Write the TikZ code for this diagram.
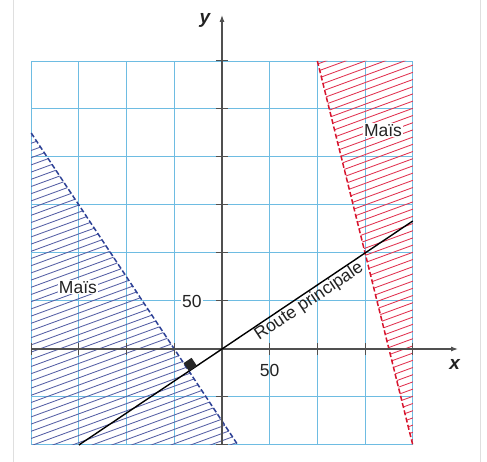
\documentclass[tikz,border=0pt]{standalone}
\usepackage{fontspec}
\setmainfont{Liberation Sans}
\usetikzlibrary{arrows.meta,calc}
\definecolor{gridblue}{RGB}{110,188,226}
\definecolor{hatchblue}{RGB}{85,95,165}
\definecolor{lineblue}{RGB}{45,65,150}
\definecolor{hatchred}{RGB}{225,50,80}
\definecolor{linered}{RGB}{215,20,45}
\definecolor{axisgray}{RGB}{80,80,80}
\definecolor{txt}{RGB}{35,35,35}
\begin{document}
\begin{tikzpicture}[x=47.7pt,y=48pt,
 gridline/.style={gridblue,line width=1pt},
 axisline/.style={axisgray,line width=1.2pt},
 tickmark/.style={axisgray,line width=1pt},
 bluehatch/.style={hatchblue,line width=0.85pt},
 redhatch/.style={hatchred,line width=0.85pt},
 bluebound/.style={lineblue,line width=1.5pt,dash pattern=on 5pt off 2.5pt},
 redbound/.style={linered,line width=1.5pt,dash pattern=on 5pt off 2.5pt},
 roadline/.style={black,line width=1.4pt},
 edgeline/.style={gray!25,line width=1pt},
 lbl/.style={text=txt,font=\fontsize{17.5}{20}\selectfont,inner sep=1pt},
 axlbl/.style={text=txt,font=\fontsize{19}{22}\selectfont\bfseries\itshape,inner sep=1pt}
]
\useasboundingbox (-4.654,-2.354) rectangle (5.556,7.271);
\fill[white] (-4.654,-2.354) rectangle (5.556,7.271);
% page edges
\draw[edgeline] (-4.38,-2.354) -- (-4.38,7.271);
\draw[edgeline] (5.42,-2.354) -- (5.42,7.271);
% grid
\draw[gridline,step={(1,1)}] (-4,-2) grid (4,6);
% blue hatched region
\begin{scope}
\clip (-4,4.5) -- (1/3,-2) -- (-4,-2) -- cycle;
\foreach \i in {0,...,57} \draw[bluehatch] (-4.1,-3.7+0.15*\i) -- ++(4.6,1.67);
\end{scope}
% red hatched region
\begin{scope}
\clip (2,6) -- (4,6) -- (4,-2) -- cycle;
\foreach \i in {0,...,60} \draw[redhatch] (1.9,-2.8+0.15*\i) -- ++(2.2,0.8);
\end{scope}
% boundaries
\coordinate (bA) at (-4,4.5);
\coordinate (bB) at (1/3,-2);
\coordinate (rA) at (2,6);
\coordinate (rB) at (4,-2);
\draw[bluebound] (bA) -- (bB);
\draw[redbound] (rA) -- (rB);
% axes
\coordinate (xs) at (-4,0);
\coordinate (xe) at (4.95,0);
\coordinate (ys) at (0,-2);
\coordinate (ye) at (0,6.96);
\draw[axisline,-{Latex[length=7pt,width=5pt]}] (xs) -- (xe);
\draw[axisline,-{Latex[length=7pt,width=5pt]}] (ys) -- (ye);
\foreach \k in {-2,-1,1,2,3,4,5,6} \draw[tickmark] (-0.13,\k) -- (0.13,\k);
\foreach \k in {-4,-3,-2,-1,1,2,3,4} \draw[tickmark] (\k,-0.12) -- (\k,0.12);
% road
\coordinate (roadA) at (-3,-2);
\coordinate (roadB) at (4,8/3);
\draw[roadline] (roadA) -- (roadB);
\coordinate (P) at (-0.6923,-0.4615);
\fill[black!85,shift={(P)},rotate=33.69] (0,0) rectangle (0.2,0.2);
\node[lbl,rotate=33.69,anchor=north] (road) at (1.72,1.147) {Route principale};
% labels
\node[lbl,fill=white] (maisB) at (-3.02,1.29) {Maïs};
\node[lbl,fill=white] (maisR) at (3.375,4.56) {Maïs};
\node[lbl,fill=white] (y50) at (-0.63,0.98) {50};
\node[lbl] (x50) at (1.0,-0.44) {50};
\node[axlbl] (xl) at (4.88,-0.33) {x};
\node[axlbl] (yl) at (-0.36,6.85) {y};
\end{tikzpicture}
\end{document}
